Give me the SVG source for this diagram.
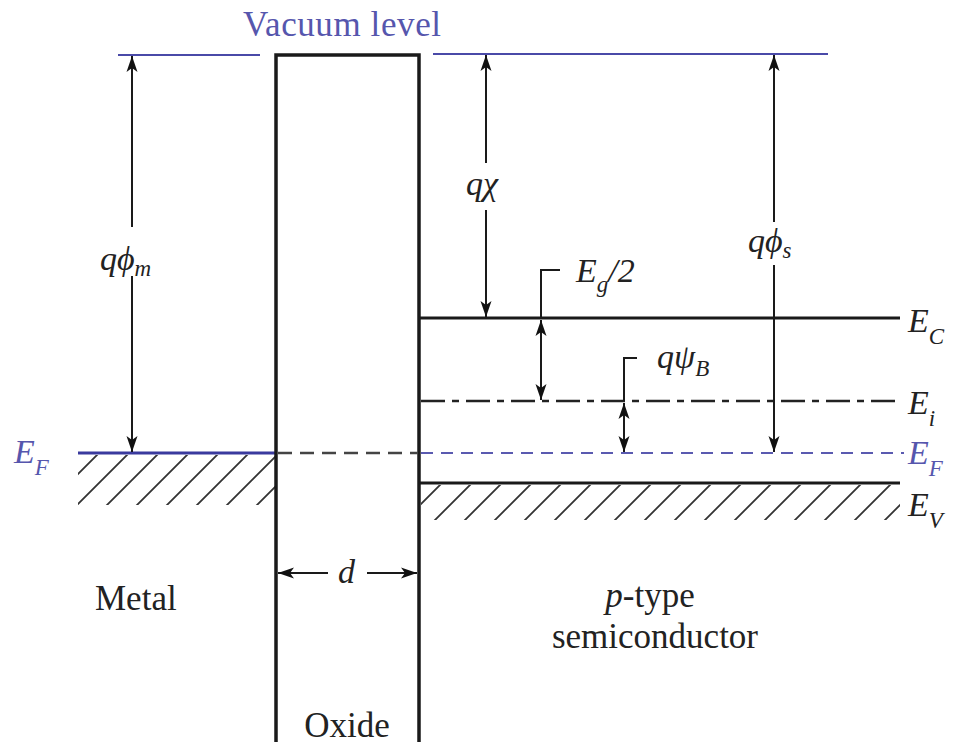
<svg xmlns="http://www.w3.org/2000/svg" width="958" height="744" viewBox="0 0 958 744">
<style>
.t{font-family:"Liberation Serif","Tinos","Times New Roman","Noto Serif","DejaVu Serif",serif;fill:#222}
.w{font-size:35px}
.m{font-size:34px;font-style:italic}
.s{font-size:23px;font-style:italic}
.blue{fill:#5656ad}
.lvl{stroke:#1a1a1a;stroke-width:3;fill:none}
.vac{stroke:#4a4aa8;stroke-width:2.2;fill:none}
.wall{stroke:#1a1a1a;stroke-width:3.5;fill:none}
.arr{stroke:#1a1a1a;stroke-width:2;fill:none}
.hatch{stroke:none}
</style>
<defs>
<marker id="ah" markerUnits="userSpaceOnUse" markerWidth="18" markerHeight="12" refX="16" refY="6" orient="auto-start-reverse">
<path d="M0,0.5 L16,6 L0,11.5 L4,6 z" fill="#111"/>
</marker>
<pattern id="hm" patternUnits="userSpaceOnUse" x="12" y="0" width="30" height="30">
<path d="M0,30 L30,0 M-5,5 L5,-5 M25,35 L35,25" stroke="#333" stroke-width="1.8"/>
</pattern>
<pattern id="hs" patternUnits="userSpaceOnUse" x="25" y="0" width="30" height="30">
<path d="M0,30 L30,0 M-5,5 L5,-5 M25,35 L35,25" stroke="#333" stroke-width="1.8"/>
</pattern>
</defs>

<g id="vacuum-level">
<line class="vac" x1="118" y1="55" x2="260" y2="55"/>
<line class="vac" x1="433" y1="54" x2="828" y2="54"/>
<text class="t w blue" x="243" y="36" textLength="198">Vacuum level</text>
</g>

<g id="metal">
<rect class="hatch" x="78" y="455" width="198" height="50" fill="url(#hm)"/>
<line x1="78" y1="453" x2="276" y2="453" stroke="#3a3a9e" stroke-width="3"/>
<text class="t m blue" x="14" y="463">E<tspan class="s" dy="12">F</tspan></text>
<text class="t w" x="95" y="610">Metal</text>
</g>

<g id="oxide">
<path class="wall" d="M276,742 L276,55 L419,55 L419,742"/>
<line x1="278" y1="453" x2="418" y2="453" stroke="#444" stroke-width="2.5" stroke-dasharray="14 8"/>
<text class="t w" x="347" y="737" text-anchor="middle">Oxide</text>
</g>

<g id="semiconductor">
<rect class="hatch" x="421" y="485" width="479" height="35" fill="url(#hs)"/>
<line class="lvl" x1="419" y1="318" x2="900" y2="318"/>
<line x1="421" y1="401" x2="900" y2="401" stroke="#222" stroke-width="2.5" stroke-dasharray="24 7 7 7"/>
<line x1="421" y1="453" x2="904" y2="453" stroke="#5a5ab0" stroke-width="2.2" stroke-dasharray="12 8"/>
<line class="lvl" x1="419" y1="483" x2="900" y2="483"/>
<text class="t m" x="908" y="332">E<tspan class="s" dy="12">C</tspan></text>
<text class="t m" x="908" y="414">E<tspan class="s" dy="12">i</tspan></text>
<text class="t m blue" x="908" y="464">E<tspan class="s" dy="12">F</tspan></text>
<text class="t m" x="908" y="516">E<tspan class="s" dy="12" font-style="normal">V</tspan></text>
<text class="t w" x="650" y="607" text-anchor="middle"><tspan font-style="italic">p</tspan>-type</text>
<text class="t w" x="655" y="648" text-anchor="middle">semiconductor</text>
</g>

<g id="labels">
<text class="t m" x="100" y="270">qϕ<tspan class="s" dy="6">m</tspan></text>
<text class="t m" x="466" y="195">qχ</text>
<text class="t m" x="748" y="252">qϕ<tspan class="s" dy="6">s</tspan></text>
<text class="t m" x="576" y="282">E<tspan class="s" dy="10" font-style="normal">g</tspan><tspan dy="-10">/2</tspan></text>
<text class="t m" x="657" y="368">qψ<tspan class="s" dy="8">B</tspan></text>
<text class="t m" x="338" y="583">d</text>
</g>

<g id="connectors">
<line class="arr" x1="132" y1="227" x2="132" y2="56" marker-end="url(#ah)"/>
<line class="arr" x1="132" y1="276" x2="132" y2="452" marker-end="url(#ah)"/>
<line class="arr" x1="486" y1="163" x2="486" y2="55" marker-end="url(#ah)"/>
<line class="arr" x1="486" y1="210" x2="486" y2="317" marker-end="url(#ah)"/>
<line class="arr" x1="774" y1="222" x2="774" y2="55" marker-end="url(#ah)"/>
<line class="arr" x1="774" y1="265" x2="774" y2="452" marker-end="url(#ah)"/>
<polyline class="arr" points="560,270 541,270 541,318"/>
<line class="arr" x1="541" y1="320" x2="541" y2="400" marker-start="url(#ah)" marker-end="url(#ah)"/>
<polyline class="arr" points="637,358 624,358 624,401"/>
<line class="arr" x1="624" y1="403" x2="624" y2="452" marker-start="url(#ah)" marker-end="url(#ah)"/>
<line class="arr" x1="328" y1="573" x2="278" y2="573" marker-end="url(#ah)"/>
<line class="arr" x1="367" y1="573" x2="417" y2="573" marker-end="url(#ah)"/>
</g>
</svg>
